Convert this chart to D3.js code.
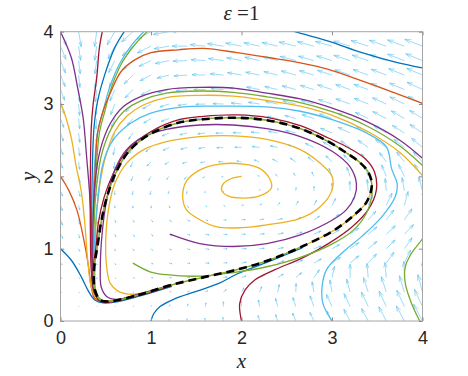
<!DOCTYPE html>
<meta charset="utf-8">
<style>
    body { margin: 0; background: #fff; }
    .tick text { font: 18px "Liberation Sans", Arial, sans-serif; fill: #262626; }
    .tick line { stroke: #8c8c8c; }
    .domain { display: none; }
    .traj { fill: none; stroke-width: 1.3px; }
    .quiver { fill: none; stroke: #4DBEEE; stroke-opacity: 0.65; stroke-width: 0.85px; }
    .label { font-family: "Liberation Serif", "DejaVu Serif", serif; font-style: italic; font-size: 21px; fill: #262626; }
</style>
<svg width="468" height="376"></svg>
<script src="https://d3js.org/d3.v7.min.js"></script>
<script>

    // quiver grid (rows listed from top y=4 down to y=0)
    const quiverXs = [0, 0.2, 0.4, 0.6, 0.8, 1, 1.2, 1.4, 1.6, 1.8, 2, 2.2, 2.4, 2.6, 2.8, 3, 3.2, 3.4, 3.6, 3.8, 4];
    const quiverYs = [4, 3.8, 3.6, 3.4, 3.2, 3, 2.8, 2.6, 2.4, 2.2, 2, 1.8, 1.6, 1.4, 1.2, 1, 0.8, 0.6, 0.4, 0.2, 0];

    // arrow direction as seen on the plot, degrees ccw from +x
    const quiverAngle = [
        [293,280,262,240,222,208,190,178,173,171,170,169,168,167,166,165,164,163,162,161,160],
        [292,278,262,242,222,206,190,180,174,171,169,168,167,166,165,164,163,162,161,160,159],
        [292,277,262,243,223,205,192,182,176,172,169,167,166,165,164,163,162,161,160,159,158],
        [292,276,263,245,225,207,194,184,178,174,170,168,166,164,163,162,161,160,159,158,157],
        [291,275,264,247,227,209,196,187,180,176,172,169,167,165,163,162,161,160,158,157,155],
        [291,275,265,249,228,210,198,189,182,178,174,171,168,166,164,162,160,158,156,154,152],
        [290,276,266,250,230,212,200,191,184,180,176,172,169,165,162,160,157,155,153,150,148],
        [289,277,268,255,236,216,203,194,187,182,178,174,170,166,162,158,155,152,150,148,146],
        [288,278,270,258,240,220,206,196,189,183,178,173,168,163,155,148,145,145,144,142,140],
        [288,278,272,262,245,225,210,198,188,178,168,160,152,146,140,135,132,130,126,128,133],
        [300,282,272,262,250,240,232,222,212,202,190,160,140,125,115,110,110,110,112,116,124],
        [292,285,275,268,262,256,252,258,255,250,0,80,82,85,88,90,92,95,95,100,105],
        [290,283,275,272,270,275,285,300,315,330,5,30,50,60,62,62,62,68,65,75,85],
        [292,285,280,288,298,310,322,332,340,350,2,8,14,25,32,38,44,48,52,55,60],
        [300,285,278,290,305,318,330,342,350,355,0,5,12,18,24,30,36,40,43,46,50],
        [313,295,275,285,300,315,330,340,348,355,0,5,10,15,20,28,35,40,45,55,60],
        [320,310,285,300,330,340,348,355,2,7,12,16,20,24,30,35,40,48,55,65,70],
        [330,315,285,320,345,355,0,0,5,12,20,28,32,40,55,78,90,95,95,92,88],
        [340,330,310,5,10,15,18,22,28,40,60,70,78,88,100,100,105,108,108,107,105],
        [350,0,10,15,25,60,65,70,80,90,95,100,105,108,110,115,115,115,115,115,115],
        [0,0,10,30,60,80,90,95,100,100,102,105,108,112,115,118,118,118,118,118,118]
    ];

    // relative speed, 10 = longest arrow
    const quiverSpeed = [
        [8,8,8,8,8,8.5,8.5,8.5,8.5,9,9,9,9,9,9.5,9.5,9.5,9.5,10,10,10],
        [7.5,7.5,7.5,7.5,7.5,8,8,8,8,8.5,8.5,8.5,8.5,9,9,9,9,9.5,9.5,9.5,10],
        [7,7,7,7,7,7,7.5,7.5,7.5,8,8,8,8,8.5,8.5,8.5,9,9,9,9.5,9.5],
        [6.5,6.5,7,7,6.5,6.5,6.5,7,7,7,7.5,7.5,7.5,8,8,8,8.5,8.5,8.5,9,9],
        [6,6.5,6.5,6.5,6,6,6,6,6,6.5,6.5,7,7,7.5,7.5,8,8,8,8.5,8.5,9],
        [5.5,6,6,6,5.5,5,5,5,5,5.5,5.5,6,6.5,7,7,7.5,8,8,8,8.5,8.5],
        [5,5.5,5.5,5,4.5,4.5,4.5,4.5,4.5,4.5,5,5,5.5,6,6.5,7,7,7.5,8,8,8],
        [4.5,5,5,4.5,4,4,4,4,4,4,4.5,4.5,5,5.5,6,6.5,7,7,7.5,7.5,8],
        [4,4.5,4.5,4,3.5,3.5,3.5,3.5,3.5,3.5,3.5,4,4,4.5,5,5.5,6,6.5,7,7,7.5],
        [3.5,4,4,3.5,3,3,2.5,2.5,2.5,2.5,2.5,3,3,3.5,4,4.5,5,5.5,6,6.5,7],
        [3,3.5,3.5,3,2.5,2.5,2,2,1.5,1,0.7,1,1.5,2,2.5,4.5,5,6,6.5,7,7.5],
        [3,3,2.5,2,2,2,1.5,1.5,1,0.7,0.3,0.7,1.2,1.7,2.3,4,5,6,6.5,7,7.5],
        [3,2.5,2,1.5,1.5,1.5,1.5,1.5,1.2,1,1,1.3,1.8,2.5,3,4,5,6,7,7.5,8],
        [3,2.5,2,1.5,1.5,1.5,1.5,1.5,1.5,1.5,2,2,2.5,3,3.5,4.5,5.5,6,6.5,7,7.5],
        [2.5,2,1.5,1.5,1.5,1.5,1.5,1.5,2,2,2,2.5,3,3.5,4,4.5,5.5,6,6.5,7,7.5],
        [2,1.5,1.2,1.2,1.2,1.2,1.5,1.5,2,2,2.5,2.5,3,3.5,4,4.5,5.5,6,6.5,7,7.5],
        [1.2,1,1,1,1,1.2,1.5,1.5,2,2,2.5,3,3.5,4,4.5,5.5,6,6.5,7,7.5,8],
        [0.8,0.8,0.8,0.8,0.8,1,1.2,1.5,1.5,2,2.5,3,3.5,4,5,6,7,7.5,8,8.5,9],
        [0.5,0.5,0.5,0.5,0.5,0.7,1,1.2,1.5,2,2.5,3,4,4.5,5.5,6.5,7,8,8.5,9,9.5],
        [0.3,0.3,0.3,0.3,0.5,0.7,1,1.5,2,2.5,3,3.5,4.5,5,6,7,7.5,8.5,9,9.5,10],
        [0.2,0.2,0.2,0.2,0.3,0.5,0.8,1.2,1.5,2,2.5,3,3.5,4.5,5,6,7,7.5,8.5,9,10]
    ];

    // limit cycle (black dashed)
    const limitCycle = [[0.53,0.27],[0.86,0.36],[1.23,0.50],[1.60,0.61],[1.95,0.71],[2.30,0.84],[2.67,1.03],[3.03,1.26],
        [3.25,1.47],[3.38,1.64],[3.44,1.88],[3.40,2.06],[3.30,2.20],[3.14,2.34],[2.96,2.48],[2.65,2.66],[2.31,2.77],
        [1.95,2.81],[1.58,2.79],[1.30,2.74],[0.97,2.57],[0.75,2.34],[0.60,2.02],[0.51,1.70],[0.45,1.37],
        [0.41,1.05],[0.37,0.70],[0.38,0.43],[0.44,0.29]];

    // trajectories, each with a MATLAB line colour
    const trajColors = ["#0072BD", "#D95319", "#EDB120", "#7E2F8E", "#A2142F", "#0072BD", "#4DBEEE", "#77AC30",
        "#D95319", "#0072BD", "#7E2F8E", "#77AC30", "#EDB120", "#4DBEEE", "#0072BD", "#A2142F", "#77AC30",
        "#EDB120", "#7E2F8E", "#77AC30"];

    const trajFromY1 = [[0,1],[0.12,0.84],[0.23,0.61],[0.31,0.41],[0.38,0.29],[0.47,0.25],[0.6,0.26],[0.86,0.34],[1.23,0.48]];
    const trajFromY2 = [[0,2],[0.09,1.81],[0.18,1.54],[0.25,1.17],[0.31,0.75],[0.34,0.47],[0.38,0.31],[0.49,0.27],[0.86,0.36]];
    const trajFromY3 = [[0,3.02],[0.06,2.81],[0.12,2.53],[0.17,2.16],[0.23,1.79],[0.27,1.33],[0.30,0.85],[0.34,0.47],[0.40,0.31],[0.5,0.27],[0.86,0.36]];
    const trajFromY4 = [[0,4],[0.12,3.64],[0.19,3.22],[0.25,2.81],[0.29,2.25],[0.32,1.79],[0.34,1.33],[0.35,0.8],[0.37,0.45],[0.42,0.30],[0.53,0.27],[0.86,0.36]];
    const trajTopA = [[0.47,4.05],[0.43,3.78],[0.40,3.36],[0.36,2.99],[0.34,2.67],[0.33,2.0],[0.33,1.3],[0.34,0.7],[0.37,0.40],[0.44,0.28],[0.55,0.27],[0.86,0.36]];
    const trajTopB = [[0.73,4.05],[0.60,3.78],[0.49,3.41],[0.41,3.04],[0.37,2.67],[0.35,2.0],[0.345,1.3],[0.35,0.7],[0.38,0.38],[0.45,0.28],[0.56,0.27],[0.86,0.35]];
    const trajTopC = [[0.96,4.05],[0.79,3.82],[0.65,3.55],[0.54,3.22],[0.47,2.9],[0.41,2.6],[0.37,2.0],[0.355,1.3],[0.36,0.7],[0.39,0.37],[0.46,0.28],[0.57,0.27],[0.86,0.355]];
    const trajTopD = [[1.0,4.05],[0.82,3.82],[0.67,3.55],[0.56,3.22],[0.49,2.90],[0.43,2.6],[0.39,2.0],[0.365,1.3],[0.365,0.7],[0.39,0.37],[0.46,0.285],[0.57,0.275],[0.86,0.36]];
    const trajFromX4Y3 = [[4,3.01],[3.70,3.15],[3.33,3.32],[2.96,3.48],[2.65,3.57],[2.31,3.64],[1.95,3.71],[1.58,3.77],[1.30,3.75],[1.0,3.71],
        [0.82,3.61],[0.67,3.45],[0.56,3.18],[0.47,2.90],[0.41,2.6],[0.38,2.0],[0.36,1.3],[0.36,0.7],[0.39,0.36],[0.46,0.28],[0.57,0.27],[0.86,0.36]];
    const trajFromX4Y35 = [[4,3.5],[3.70,3.58],[3.33,3.71],[2.96,3.87],[2.59,4.0],[2.4,4.08]];
    const trajOuterPurple = [[4,2.25],[3.75,2.50],[3.38,2.76],[3.01,2.94],[2.65,3.07],[2.28,3.15],[1.91,3.22],[1.54,3.23],[1.17,3.20],[0.88,3.10],
        [0.69,2.96],[0.55,2.73],[0.44,2.37],[0.38,1.90],[0.36,1.3],[0.36,0.7],[0.39,0.36],[0.46,0.28],[0.57,0.27],[0.86,0.36]];
    const trajOuterGreen = [[4,2.15],[3.75,2.42],[3.38,2.70],[3.01,2.89],[2.65,3.02],[2.28,3.10],[1.91,3.16],[1.54,3.18],[1.17,3.15],[0.9,3.05],
        [0.71,2.91],[0.57,2.68],[0.46,2.33],[0.40,1.88],[0.37,1.3],[0.37,0.7],[0.40,0.36],[0.47,0.28],[0.57,0.27],[0.86,0.36]];
    const trajOuterYellow = [[4,2.01],[3.75,2.33],[3.38,2.63],[3.01,2.84],[2.65,2.97],[2.28,3.05],[1.91,3.11],[1.54,3.12],[1.17,3.09],[0.92,2.99],
        [0.74,2.84],[0.60,2.62],[0.50,2.28],[0.43,1.85],[0.39,1.3],[0.38,0.7],[0.40,0.36],[0.47,0.28],[0.57,0.27],[0.86,0.36]];
    const trajFromX3 = [[3.0,0],[2.90,0.24],[2.89,0.47],[2.94,0.71],[3.11,0.94],[3.33,1.17],[3.55,1.44],[3.70,1.72],[3.72,1.90],[3.66,2.10],
        [3.60,2.41],[3.38,2.60],[3.01,2.78],[2.65,2.90],[2.28,2.96],[1.73,2.97],[1.36,2.96],[0.99,2.87],[0.77,2.73],[0.58,2.50],[0.47,2.18],
        [0.42,1.77],[0.38,1.2],[0.37,0.7],[0.40,0.35],[0.47,0.28],[0.58,0.27],[0.86,0.36]];
    const trajFromX1 = [[1.0,0],[1.03,0.1],[1.1,0.2],[1.25,0.3],[1.5,0.41],[1.75,0.52],[1.95,0.65],[2.3,0.82],[2.67,1.01]];
    const trajFromX2 = [[2,0],[1.98,0.24],[2.04,0.43],[2.15,0.57],[2.37,0.71],[2.67,0.87],[2.96,1.07],[3.22,1.30],[3.40,1.54],[3.49,1.81],
        [3.47,2.06],[3.37,2.24],[3.16,2.41],[2.96,2.53],[2.65,2.70],[2.31,2.81],[1.95,2.85],[1.58,2.83],[1.30,2.78],[1.0,2.62],[0.75,2.38],
        [0.58,2.03],[0.48,1.7],[0.42,1.37],[0.39,1.0],[0.36,0.70],[0.37,0.43],[0.43,0.28],[0.53,0.26],[0.86,0.35],[1.23,0.49]];
    const trajFromX4 = [[3.97,0],[3.88,0.24],[3.81,0.52],[3.81,0.75],[3.88,0.94],[3.99,1.12],[4.05,1.25]];
    const trajSpiral = [[2,2],[1.89,1.97],[1.80,1.90],[1.78,1.81],[1.85,1.73],[2.02,1.70],[2.20,1.73],[2.33,1.84],[2.31,1.97],[2.20,2.11],
        [2.02,2.17],[1.76,2.17],[1.54,2.09],[1.39,1.93],[1.35,1.72],[1.39,1.54],[1.54,1.40],[1.73,1.30],[2.0,1.29],[2.28,1.33],[2.65,1.42],
        [2.87,1.58],[3.0,1.81],[3.0,2.0],[2.87,2.18],[2.65,2.37],[2.28,2.51],[1.91,2.56],[1.54,2.55],[1.17,2.48],[0.92,2.37],[0.73,2.18],
        [0.60,1.90],[0.53,1.54],[0.50,1.12],[0.51,0.75],[0.55,0.52],[0.64,0.41],[0.80,0.37],[1.23,0.50],[1.60,0.61],[1.95,0.71],[2.30,0.84],
        [2.67,1.03],[3.03,1.26],[3.25,1.47],[3.38,1.64],[3.44,1.88],[3.40,2.06],[3.30,2.20],[3.14,2.34],[2.96,2.48],[2.65,2.66],[2.31,2.77],
        [1.95,2.81],[1.58,2.79],[1.30,2.74],[0.97,2.57],[0.75,2.34],[0.60,2.02],[0.51,1.70],[0.45,1.37],[0.41,1.05],[0.37,0.70],[0.38,0.43],
        [0.44,0.29],[0.53,0.27],[0.86,0.36]];
    const trajInnerPurple = [[1.21,1.20],[1.54,1.07],[1.91,1.03],[2.28,1.07],[2.65,1.19],[3.01,1.40],[3.16,1.54],[3.25,1.72],[3.27,1.90],[3.20,2.13],
        [3.01,2.34],[2.65,2.55],[2.28,2.66],[1.91,2.71],[1.54,2.71],[1.17,2.65],[0.92,2.55],[0.73,2.37],[0.60,2.09],[0.51,1.67],[0.46,1.21],
        [0.44,0.75],[0.45,0.47],[0.51,0.34],[0.62,0.30],[0.86,0.37],[1.23,0.50]];
    const trajInnerGreen = [[0.80,0.80],[0.99,0.68],[1.17,0.64],[1.54,0.62],[1.91,0.67],[2.28,0.75],[2.65,0.88],[3.01,1.07],[3.24,1.26],[3.38,1.49],
        [3.44,1.72],[3.44,1.88],[3.40,2.06],[3.30,2.20],[3.14,2.34],[2.96,2.48],[2.65,2.66],[2.31,2.77],[1.95,2.81],[1.58,2.79],[1.30,2.74],
        [0.97,2.57],[0.75,2.34],[0.60,2.02],[0.51,1.70],[0.45,1.37],[0.41,1.05],[0.37,0.70],[0.38,0.43],[0.44,0.29],[0.53,0.27],[0.86,0.36],
        [1.23,0.50],[1.60,0.61],[1.95,0.71],[2.30,0.84],[2.67,1.03]];

    const trajectories = [trajFromY1, trajFromY2, trajFromY3, trajFromY4, trajTopA, trajTopB, trajTopC, trajTopD,
        trajFromX4Y3, trajFromX4Y35, trajOuterPurple, trajOuterGreen, trajOuterYellow, trajFromX3, trajFromX1,
        trajFromX2, trajFromX4, trajSpiral, trajInnerPurple, trajInnerGreen];

    const xTicks = [0, 1, 2, 3, 4];
    const yTicks = [0, 1, 2, 3, 4];

    const svg = d3.select("svg"),
        plotLeft = 60.5, plotRight = 422.5, plotTop = 31.7, plotBottom = 321;

    const x = d3.scaleLinear().domain([0, 4]).range([plotLeft, plotRight]),
        y = d3.scaleLinear().domain([0, 4]).range([plotBottom, plotTop]);

    svg.append("defs").append("clipPath").attr("id", "plotclip")
        .append("rect").attr("x", plotLeft).attr("y", plotTop)
        .attr("width", plotRight - plotLeft).attr("height", plotBottom - plotTop);

    const plot = svg.append("g").attr("clip-path", "url(#plotclip)");

    // quiver: tail at grid point, MATLAB style arrow head
    const maxArrow = 19, headA = 0.33, headB = 0.33;
    const arrows = [];
    quiverYs.forEach(function(gy, i) {
        quiverXs.forEach(function(gx, j) {
            arrows.push({ gx: gx, gy: gy, ang: quiverAngle[i][j], spd: quiverSpeed[i][j] });
        });
    });

    plot.append("g").selectAll("path")
        .data(arrows)
        .enter().append("path")
        .attr("class", "quiver")
        .attr("d", function(d) {
            var x0 = x(d.gx), y0 = y(d.gy),
                len = d.spd / 10 * maxArrow,
                u = len * Math.cos(d.ang * Math.PI / 180),
                v = len * Math.sin(d.ang * Math.PI / 180);
            var tx = x0 + u, ty = y0 - v;
            var h1x = tx - headA * (u + headB * v), h1y = ty + headA * (v - headB * u);
            var h2x = tx - headA * (u - headB * v), h2y = ty + headA * (v + headB * u);
            return "M" + x0 + "," + y0 + "L" + tx + "," + ty +
                "M" + h1x + "," + h1y + "L" + tx + "," + ty + "L" + h2x + "," + h2y;
        });

    const line = d3.line()
        .x(function(d) { return x(d[0]); })
        .y(function(d) { return y(d[1]); })
        .curve(d3.curveCatmullRom.alpha(0.5));

    plot.append("g").selectAll("path")
        .data(trajectories)
        .enter().append("path")
        .attr("class", "traj")
        .attr("stroke", function(d, i) { return trajColors[i]; })
        .attr("d", line);

    plot.append("path")
        .datum(limitCycle)
        .attr("fill", "none")
        .attr("stroke", "#000")
        .attr("stroke-width", 2.6)
        .attr("stroke-dasharray", "8,5")
        .attr("d", d3.line()
            .x(function(d) { return x(d[0]); })
            .y(function(d) { return y(d[1]); })
            .curve(d3.curveCatmullRomClosed.alpha(0.5)));

    // box and ticks
    svg.append("rect")
        .attr("x", plotLeft).attr("y", plotTop)
        .attr("width", plotRight - plotLeft).attr("height", plotBottom - plotTop)
        .attr("fill", "none").attr("stroke", "#a6a6a6").attr("stroke-width", 1);

    svg.append("g").attr("transform", "translate(0," + plotBottom + ")")
        .call(d3.axisBottom(x).tickValues(xTicks).tickFormat(d3.format("d")).tickSize(-3.6).tickPadding(10));
    svg.append("g").attr("transform", "translate(0," + plotTop + ")")
        .call(d3.axisTop(x).tickValues(xTicks).tickFormat("").tickSize(-3.6));
    svg.append("g").attr("transform", "translate(" + plotLeft + ",0)")
        .call(d3.axisLeft(y).tickValues(yTicks).tickFormat(d3.format("d")).tickSize(-3.6).tickPadding(7));
    svg.append("g").attr("transform", "translate(" + plotRight + ",0)")
        .call(d3.axisRight(y).tickValues(yTicks).tickFormat("").tickSize(-3.6));

    // labels
    svg.append("text").attr("class", "label")
        .attr("x", (plotLeft + plotRight) / 2).attr("y", 368).attr("text-anchor", "middle").text("x");
    svg.append("text").attr("class", "label")
        .attr("transform", "translate(35," + ((plotTop + plotBottom) / 2) + ") rotate(-90)")
        .attr("text-anchor", "middle").text("y");

    const title = svg.append("text")
        .attr("x", (plotLeft + plotRight) / 2).attr("y", 20).attr("text-anchor", "middle")
        .style("font-family", "'Liberation Serif', 'DejaVu Serif', serif").style("font-size", "21px").style("fill", "#262626");
    title.append("tspan").style("font-style", "italic").text("ε");
    title.append("tspan").text(" =1");

</script>
